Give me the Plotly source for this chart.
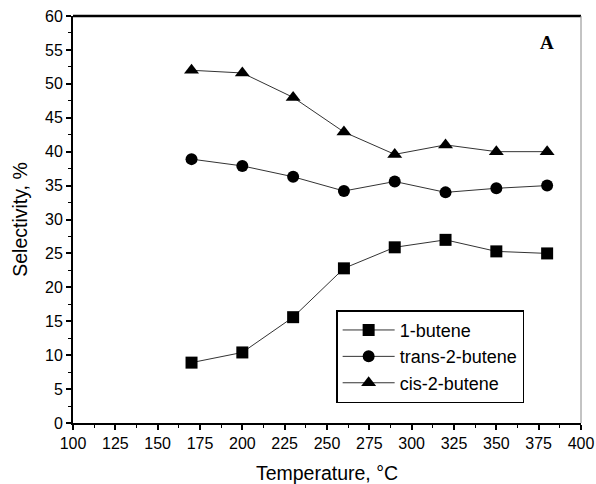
import plotly.graph_objects as go

temps = [170, 200, 230, 260, 290, 320, 350, 380]
butene1 = [8.9, 10.4, 15.6, 22.8, 25.9, 27.0, 25.3, 25.0]
trans2 = [38.9, 37.9, 36.3, 34.2, 35.6, 34.0, 34.6, 35.0]
cis2 = [52.0, 51.6, 48.0, 42.9, 39.6, 41.0, 40.0, 40.0]
names = ["1-butene", "trans-2-butene", "cis-2-butene"]
symbols = ["square", "circle", "triangle-up"]
xticks = list(range(100, 401, 25))
yticks = list(range(0, 61, 5))

fig = go.Figure()
for ys, nm, sym, sz in zip([butene1, trans2, cis2], names, symbols, [12, 12, 13]):
    fig.add_trace(go.Scatter(
        x=temps, y=ys, name=nm, mode="lines+markers",
        line=dict(color="#333333", width=1),
        marker=dict(symbol=sym, size=sz, color="black"),
    ))

fam = "Liberation Sans, Arial, sans-serif"
fig.update_layout(
    width=596, height=484,
    margin=dict(l=73, r=15, t=16, b=61, autoexpand=False),
    paper_bgcolor="white", plot_bgcolor="white",
    font=dict(family=fam, size=16, color="black"),
    showlegend=True,
    legend=dict(x=0.518, y=0.277, xanchor="left", yanchor="top",
                bordercolor="black", borderwidth=1.5, bgcolor="white",
                font=dict(family=fam, size=18, color="black"),
                itemwidth=52, tracegroupgap=0),
    xaxis=dict(range=[100, 400], tickvals=xticks, ticktext=[str(v) for v in xticks],
               showgrid=False, zeroline=False, showline=True, linecolor="black", linewidth=2,
               ticks="outside", ticklen=5, tickwidth=1.5, tickcolor="black", automargin=False,
               minor=dict(ticks="outside", ticklen=3, tickwidth=1, tickcolor="black",
                          tick0=112.5, dtick=25),
               title=dict(text="Temperature, °C", font=dict(size=19.5), standoff=16),
               tickfont=dict(size=16)),
    yaxis=dict(range=[0, 60], tickvals=yticks, ticktext=[str(v) for v in yticks],
               showgrid=False, zeroline=False, showline=True, linecolor="black", linewidth=2,
               ticks="outside", ticklen=5, tickwidth=1.5, tickcolor="black", automargin=False,
               minor=dict(ticks="outside", ticklen=3, tickwidth=1, tickcolor="black",
                          tick0=2.5, dtick=5),
               title=dict(text="Selectivity, %", font=dict(size=19.5), standoff=12),
               tickfont=dict(size=16)),
    shapes=[
        dict(type="line", xref="paper", yref="paper", x0=0, x1=1, y0=1, y1=1,
             line=dict(color="black", width=2.5)),
        dict(type="line", xref="paper", yref="paper", x0=1, x1=1, y0=0, y1=1,
             line=dict(color="#888888", width=1)),
    ],
    annotations=[dict(text="<b>A</b>", xref="paper", yref="paper", x=0.933, y=0.934,
                      xanchor="center", yanchor="middle",
                      showarrow=False, font=dict(family="Liberation Serif, Times New Roman, serif",
                                                 size=19, color="black"))],
)

fig.write_html("out.html")
